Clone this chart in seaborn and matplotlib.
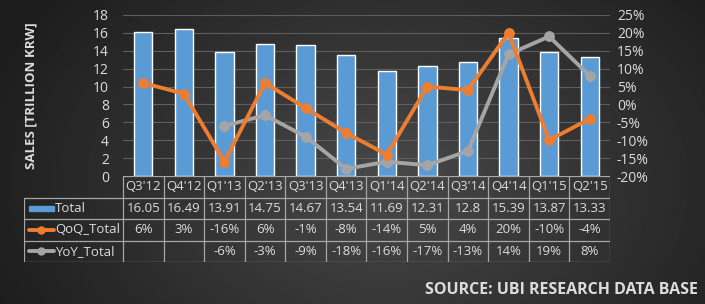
import numpy as np
import pandas as pd
import matplotlib.pyplot as plt
import seaborn as sns

quarters = ["Q3'12", "Q4'12", "Q1'13", "Q2'13", "Q3'13", "Q4'13",
            "Q1'14", "Q2'14", "Q3'14", "Q4'14", "Q1'15", "Q2'15"]
total = [16.05, 16.49, 13.91, 14.75, 14.67, 13.54, 11.69, 12.31, 12.8, 15.39, 13.87, 13.33]
qoq = [6, 3, -16, 6, -1, -8, -14, 5, 4, 20, -10, -4]
yoy = [np.nan, np.nan, -6, -3, -9, -18, -16, -17, -13, 14, 19, 8]
total_lbl = ["16.05", "16.49", "13.91", "14.75", "14.67", "13.54",
             "11.69", "12.31", "12.8", "15.39", "13.87", "13.33"]

blue = '#5b9bd5'
orange = '#ed7d31'
grey = '#a5a5a5'
txt = '#dcdcdc'
edge = '#a6a6a6'

sns.set_style('dark')
plt.rcParams['font.family'] = ['Open Sans', 'DejaVu Sans']

fig = plt.figure(figsize=(7.05, 3.04), dpi=100)

# background gradient (dark edges, lighter middle)
bg = fig.add_axes([0, 0, 1, 1], zorder=-10)
yy, xx = np.mgrid[0:1:200j, 0:1:400j]
d = np.sqrt(((xx - 0.55) / 0.6) ** 2 + ((yy - 0.6) / 1.0) ** 2)
shade = 0.285 - 0.17 * np.clip(d, 0, 1)
bg.imshow(shade, cmap='gray', vmin=0, vmax=1, aspect='auto', extent=[0, 1, 0, 1])
bg.axis('off')

L, R = 123 / 705, 610 / 705
T, B = 1 - 15 / 304, 1 - 176 / 304
ax = fig.add_axes([L, B, R - L, T - B])
ax.set_facecolor('none')

df = pd.DataFrame({'q': quarters, 'total': total, 'qoq': qoq, 'yoy': yoy, 'i': np.arange(12)})
sns.barplot(data=df, x='q', y='total', color=blue, width=0.45, saturation=1, ax=ax, zorder=2)
ax.set_ylim(0, 18)
ax.set_yticks(range(0, 19, 2))
ax.set_xlim(-0.5, 11.5)
ax.set_xticks([])
ax.set_xlabel('')
ax.set_ylabel('SALES [TRILLION KRW]', color=txt, fontsize=9.5, fontweight='bold', labelpad=40)
ax.grid(axis='y', color='#5e5e5e', lw=0.8, zorder=0)
ax.grid(axis='x', visible=False)
ax.tick_params(axis='y', colors=txt, labelsize=10, length=0, pad=10)
for s in ax.spines.values():
    s.set_visible(False)

ax2 = ax.twinx()
sns.lineplot(data=df, x='i', y='qoq', color=orange, lw=2.8, marker='o', ms=7,
             markeredgecolor=orange, ax=ax2, zorder=4)
sns.lineplot(data=df.dropna(), x='i', y='yoy', color=grey, lw=2.8, marker='o', ms=7,
             markeredgecolor=grey, ax=ax2, zorder=3)
ax2.set_ylim(-20, 25)
ax2.set_yticks(range(-20, 26, 5))
ax2.set_yticklabels([f'{v}%' for v in range(-20, 26, 5)])
ax2.set_xlim(-0.5, 11.5)
ax2.set_ylabel('')
ax2.set_xlabel('')
ax2.tick_params(axis='y', colors=txt, labelsize=10, length=0, pad=5)
ax2.grid(False)
for s in ax2.spines.values():
    s.set_visible(False)

# data table
first = 99 / 40.6
tL = 24 / 705
tB = 1 - 262 / 304
tab = fig.add_axes([tL, tB, R - tL, B - tB])
tab.set_facecolor('none')
tab.set_xlim(-0.5 - first, 11.5)
tab.set_ylim(4, 0)
tab.axis('off')
lkw = dict(color=edge, lw=0.9)
x0 = -0.5 - first
tab.plot([-0.5, 11.5], [0, 0], **lkw)
for r in range(1, 5):
    tab.plot([x0, 11.5], [r, r], **lkw)
tab.plot([x0, x0], [1, 4], **lkw)
for c in range(13):
    tab.plot([c - 0.5, c - 0.5], [0, 4], **lkw)
fs = 9.5
for i in range(12):
    tab.text(i, 0.5, quarters[i], ha='center', va='center', color=txt, fontsize=fs)
    tab.text(i, 1.5, total_lbl[i], ha='center', va='center', color=txt, fontsize=fs)
    tab.text(i, 2.5, f'{qoq[i]}%', ha='center', va='center', color=txt, fontsize=fs)
    if not np.isnan(yoy[i]):
        tab.text(i, 3.5, f'{int(yoy[i])}%', ha='center', va='center', color=txt, fontsize=fs)
# legend keys
tab.add_patch(plt.Rectangle((x0 + 0.12, 1.38), 0.62, 0.26, color=blue))
tab.plot([x0 + 0.12, x0 + 0.74], [2.5, 2.5], color=orange, lw=2.8)
tab.plot([x0 + 0.43], [2.5], 'o', color=orange, ms=5)
tab.plot([x0 + 0.12, x0 + 0.74], [3.5, 3.5], color=grey, lw=2.8)
tab.plot([x0 + 0.43], [3.5], 'o', color=grey, ms=5)
for r, name in zip([1.5, 2.5, 3.5], ['Total', 'QoQ_Total', 'YoY_Total']):
    tab.text(x0 + 0.76, r, name, ha='left', va='center', color=txt, fontsize=fs)

fig.text(0.99, 0.045, 'SOURCE: UBI RESEARCH DATA BASE', ha='right', va='center',
         color=txt, fontsize=11.5, fontweight='bold')

fig.savefig('out.png', dpi=100)
